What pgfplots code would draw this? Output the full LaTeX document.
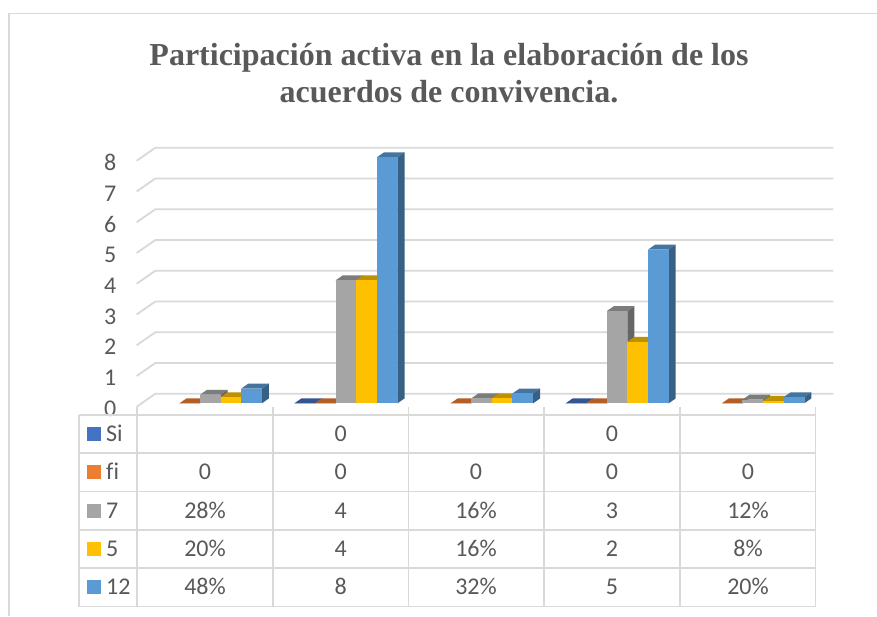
\documentclass[border=0pt]{standalone}
\usepackage{pgfplots}
\pgfplotsset{compat=1.18}
\usepackage{fontspec}
\setmainfont{Carlito}
\newfontfamily\titlefont{Liberation Serif}
\definecolor{gridgray}{HTML}{D9D9D9}
\definecolor{txtgray}{HTML}{595959}
\definecolor{sersi}{HTML}{4472C4}
\definecolor{serfi}{HTML}{ED7D31}
\definecolor{sersiete}{HTML}{A5A5A5}
\definecolor{sercinco}{HTML}{FFC000}
\definecolor{serdoce}{HTML}{5B9BD5}

% one 3D column: {category}{slot}{value}{colour}
\newcommand{\column}[4]{%
  \pgfmathsetmacro{\xa}{#1+0.163+#2*0.152}%
  \pgfmathsetmacro{\xb}{\xa+0.152}%
  \pgfmathsetmacro{\xc}{\xa+0.052}%
  \pgfmathsetmacro{\xd}{\xb+0.052}%
  \pgfmathsetmacro{\ya}{0.11}%
  \pgfmathsetmacro{\yb}{0.11+#3}%
  \pgfmathsetmacro{\yc}{\yb+0.16}%
  \pgfmathsetmacro{\yd}{\ya+0.16}%
  \addplot[fill=#4!75!black,draw=none] coordinates {(\xa,\yb)(\xb,\yb)(\xd,\yc)(\xc,\yc)} --cycle;
  \addplot[fill=#4!62!black,draw=none] coordinates {(\xb,\ya)(\xd,\yd)(\xd,\yc)(\xb,\yb)} --cycle;
  \addplot[fill=#4,draw=none] coordinates {(\xa,\ya)(\xb,\ya)(\xb,\yb)(\xa,\yb)} --cycle;
}
% back wall gridline for one y value
\newcommand{\gridline}[1]{%
  \pgfmathsetmacro{\ga}{#1+0.42}%
  \addplot[gridgray,line width=1.8pt] coordinates {(0,#1)(0.137,\ga)(5.137,\ga)};
}

\begin{document}
\begin{tikzpicture}[x=1pt,y=-1pt]
\path[use as bounding box,fill=white] (0,0) rectangle (877,616);
\draw[gridgray,line width=1.3pt] (9,616) -- (9,13.5) -- (877,13.5);
\node[font=\titlefont\bfseries\fontsize{32}{37}\selectfont,text=txtgray,align=center] at (449,73)
  {Participación activa en la elaboración de los\\acuerdos de convivencia.};

\begin{axis}[
  at={(136.7pt,-406.7pt)},anchor=origin,
  x=135.6pt,y=30.75pt,
  xmin=0,xmax=5,ymin=0,ymax=8,
  clip=false,
  axis line style={draw=none},
  major tick style={draw=none},
  xtick=\empty,
  ytick={0,1,2,3,4,5,6,7,8},
  yticklabel style={font=\fontsize{24}{24}\selectfont,text=txtgray,xshift=-17pt,yshift=-2pt},
  /pgf/number format/assume math mode=true,
  no markers,
]
\gridline{0}\gridline{1}\gridline{2}\gridline{3}\gridline{4}\gridline{5}\gridline{6}\gridline{7}\gridline{8}
% category 1
\column{0}{1}{0}{serfi}\column{0}{2}{0.28}{sersiete}\column{0}{3}{0.20}{sercinco}\column{0}{4}{0.48}{serdoce}
% category 2
\column{1}{0}{0}{sersi}\column{1}{1}{0}{serfi}\column{1}{2}{4}{sersiete}\column{1}{3}{4}{sercinco}\column{1}{4}{8}{serdoce}
% category 3
\column{2}{1}{0}{serfi}\column{2}{2}{0.16}{sersiete}\column{2}{3}{0.16}{sercinco}\column{2}{4}{0.32}{serdoce}
% category 4
\column{3}{0}{0}{sersi}\column{3}{1}{0}{serfi}\column{3}{2}{3}{sersiete}\column{3}{3}{2}{sercinco}\column{3}{4}{5}{serdoce}
% category 5
\column{4}{1}{0}{serfi}\column{4}{2}{0.12}{sersiete}\column{4}{3}{0.08}{sercinco}\column{4}{4}{0.20}{serdoce}
\end{axis}

% data table
\begin{scope}[gridgray,line width=1.8pt]
\foreach \yy in {415,453,491.5,530,568,606.5} \draw (79.3,\yy) -- (815.5,\yy);
\draw (79.3,415) -- (79.3,606.5);
\foreach \xx in {137,273,408.5,544,680,815.5} \draw (\xx,407) -- (\xx,606.5);
\end{scope}
\begin{scope}[every node/.style={font=\fontsize{24}{24}\selectfont,text=txtgray}]
\foreach \yy/\lab/\col in {434/Si/sersi,472/f\kern0pt i/serfi,511/7/sersiete,549/5/sercinco,587/12/serdoce}{
  \fill[\col] (87,\yy-7) rectangle (101,\yy+7);
  \node[anchor=base west,inner sep=0pt] at (106,\yy+7.5) {\lab};
}
\foreach \xx/\yy/\lab in {
  340.7/434/0,612/434/0,
  205/472/0,340.7/472/0,476/472/0,612/472/0,748/472/0,
  205/511/28\%,340.7/511/4,476/511/16\%,612/511/3,748/511/12\%,
  205/549/20\%,340.7/549/4,476/549/16\%,612/549/2,748/549/8\%,
  205/587/48\%,340.7/587/8,476/587/32\%,612/587/5,748/587/20\%}
  \node[anchor=base] at (\xx,\yy+7.5) {\lab};
\end{scope}
\end{tikzpicture}
\end{document}
